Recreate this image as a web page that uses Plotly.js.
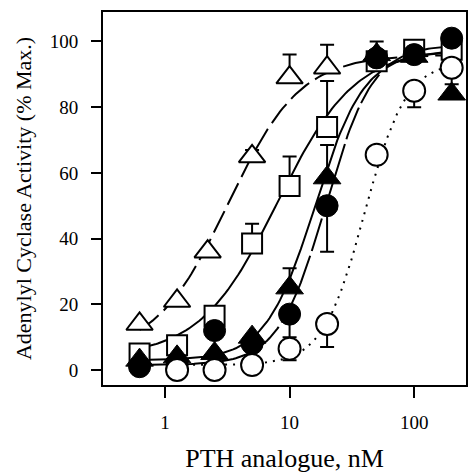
<!DOCTYPE html>
<html>
<head>
<meta charset="utf-8">
<script src="https://cdn.plot.ly/plotly-3.0.1.min.js"></script>
<style>html,body{margin:0;padding:0;background:#fff;}#chart{width:468px;height:473px;}</style>
</head>
<body>
<div id="chart"></div>
<script>
// concentrations (nM)
var conc = [0.625, 1.25, 2.5, 5, 10, 20, 50, 100, 200];
var concOpenTri = [0.625, 1.25, 2.2, 5, 10, 20];

// series values (% max)
var openTriY = [14, 21, 36, 65, 89, 92];
var openTriErr = [0, 0, 0, 2, 7, 7];

var squareY = [5, 7.5, 16.5, 38.5, 56, 74, 94, 97.5, 97.5];
var squareErr = [0, 0, 0, 6, 9, 14, 0, 0, 0];

var filledTriY = [3, 4, 5, 10, 25, 58.5, 96, 95.5, 84];
var filledTriErr = [0, 0, 0, 0, 6, 10, 4, 0, 0];

var filledCircY = [1, 1.5, 12, 8, 17, 50, 95, 96, 101];
var filledCircErrMinus = [0, 0, 0, 0, 7, 14, 0, 0, 0];

var openCircY = [null, 0, 0, 1.5, 6.5, 14, 65.5, 85, 92];
var openCircErrMinus = [0, 0, 0, 0, 3.5, 7, 0, 5, 5];

// fitted logistic (Hill) curve parameters read from the drawn fits
// order: open triangle, open square, filled triangle, filled circle, open circle
var fitEC50 = [3.2, 8, 16, 19.5, 40];
var fitHill = [1.5, 1.4, 2.2, 2.3, 2.6];
var fitBottom = [5, 4, 3, 1.5, 1.5];
var fitTop = [96, 98, 97, 99, 94];
var fitStart = [0.625, 0.625, 0.625, 0.625, 1.25];
var fitEnd = 200;

var xTicks = [1, 10, 100];
var xTickText = ['1', '10', '100'];
var yTicks = [0, 20, 40, 60, 80, 100];

function fitCurve(i) {
  var xs = [], ys = [];
  var a = Math.log10(fitStart[i]), b = Math.log10(fitEnd);
  for (var k = 0; k <= 120; k++) {
    var x = Math.pow(10, a + (b - a) * k / 120);
    xs.push(x);
    ys.push(fitBottom[i] + (fitTop[i] - fitBottom[i]) / (1 + Math.pow(fitEC50[i] / x, fitHill[i])));
  }
  return {x: xs, y: ys};
}

var dashes = ['24px,7px', 'solid', 'solid', '34px,5px', '2px,6px'];
var traces = [];
for (var i = 0; i < 5; i++) {
  var c = fitCurve(i);
  traces.push({x: c.x, y: c.y, mode: 'lines', type: 'scatter', hoverinfo: 'skip',
    line: {color: '#000', width: 2, dash: dashes[i]}, showlegend: false});
}

function err(arr, minusArr) {
  return {type: 'data', symmetric: false, array: arr, arrayminus: minusArr,
    color: '#000', thickness: 2, width: 7};
}
function zeros(n) { var z = []; for (var i = 0; i < n; i++) z.push(0); return z; }

traces.push({x: concOpenTri, y: openTriY, mode: 'markers', type: 'scatter', showlegend: false,
  marker: {symbol: 'triangle-up', size: 23, color: '#fff', line: {color: '#000', width: 2}},
  error_y: err(openTriErr, zeros(openTriErr.length))});
traces.push({x: conc, y: squareY, mode: 'markers', type: 'scatter', showlegend: false,
  marker: {symbol: 'square', size: 20, color: '#fff', line: {color: '#000', width: 2}},
  error_y: err(squareErr, zeros(squareErr.length))});
traces.push({x: conc, y: filledCircY, mode: 'markers', type: 'scatter', showlegend: false,
  marker: {symbol: 'circle', size: 22, color: '#000', line: {color: '#000', width: 1}},
  error_y: err(zeros(filledCircY.length), filledCircErrMinus)});
traces.push({x: conc, y: filledTriY, mode: 'markers', type: 'scatter', showlegend: false,
  marker: {symbol: 'triangle-up', size: 24, color: '#000', line: {color: '#000', width: 1}},
  error_y: err(filledTriErr, zeros(filledTriErr.length))});
traces.push({x: conc, y: openCircY, mode: 'markers', type: 'scatter', showlegend: false,
  marker: {symbol: 'circle', size: 22, color: '#fff', line: {color: '#000', width: 2}},
  error_y: err(zeros(openCircY.length), openCircErrMinus)});

var fontFam = '"Liberation Serif", "Times New Roman", serif';
var layout = {
  width: 468, height: 473,
  margin: {l: 103, r: 2, t: 12, b: 88},
  paper_bgcolor: '#fff', plot_bgcolor: '#fff',
  showlegend: false,
  font: {family: fontFam, color: '#000', size: 18},
  xaxis: {
    type: 'log', range: [Math.log10(0.318), 2.416],
    tickvals: xTicks, ticktext: xTickText,
    ticks: 'outside', ticklen: 11, tickwidth: 2, tickcolor: '#000',
    ticklabelstandoff: 8,
    showline: true, linewidth: 2, linecolor: '#000', mirror: true,
    showgrid: false, zeroline: false,
    tickfont: {family: fontFam, size: 19, color: '#000'},
    title: {text: 'PTH analogue, nM', font: {family: fontFam, size: 26, color: '#000'}, standoff: 28}
  },
  yaxis: {
    range: [-4.57, 108.97],
    tickvals: yTicks,
    ticks: 'outside', ticklen: 10, tickwidth: 2, tickcolor: '#000',
    ticklabelstandoff: 9,
    showline: true, linewidth: 2, linecolor: '#000', mirror: true,
    showgrid: false, zeroline: false,
    tickfont: {family: fontFam, size: 19, color: '#000'},
    title: {text: 'Adenylyl Cyclase Activity (% Max.)', font: {family: fontFam, size: 22, color: '#000'}, standoff: 12}
  }
};

Plotly.newPlot('chart', traces, layout, {displayModeBar: false, staticPlot: true});
</script>
</body>
</html>
